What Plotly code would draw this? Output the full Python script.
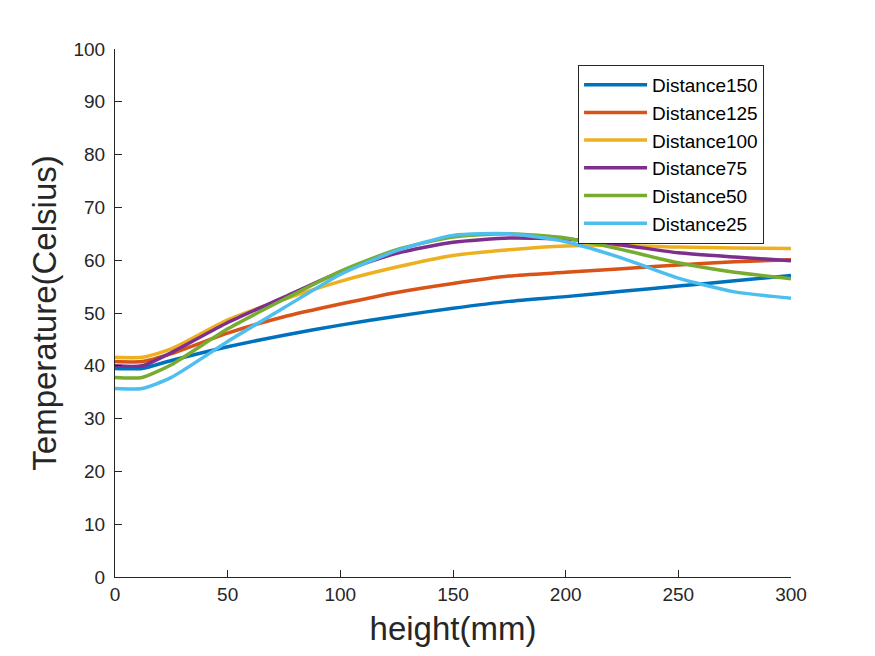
import plotly.graph_objects as go

height_mm = [0, 12, 25, 50, 75, 100, 125, 150, 175, 200, 225, 250, 275, 300]

d150 = [39.5, 39.5, 41.0, 43.6, 45.8, 47.7, 49.4, 50.9, 52.2, 53.1, 54.1, 55.1, 56.1, 57.1]
d125 = [40.8, 40.8, 42.3, 46.2, 49.3, 51.7, 53.9, 55.6, 57.0, 57.7, 58.4, 59.1, 59.7, 60.1]
d100 = [41.6, 41.6, 43.2, 48.7, 52.6, 56.0, 58.7, 60.9, 62.0, 62.7, 62.8, 62.5, 62.3, 62.2]
d75 = [40.0, 40.0, 42.5, 48.2, 53.0, 57.8, 61.3, 63.4, 64.2, 64.0, 62.9, 61.4, 60.6, 59.9]
d50 = [37.8, 37.8, 40.2, 47.0, 52.6, 57.9, 62.0, 64.4, 65.0, 64.2, 62.0, 59.5, 57.7, 56.5]
d25 = [35.7, 35.7, 37.8, 44.6, 51.0, 57.3, 61.8, 64.7, 65.0, 63.5, 60.4, 56.6, 54.0, 52.8]

series = [
    ("Distance150", d150, "#0072BD"),
    ("Distance125", d125, "#D95319"),
    ("Distance100", d100, "#EDB120"),
    ("Distance75", d75, "#7E2F8E"),
    ("Distance50", d50, "#77AC30"),
    ("Distance25", d25, "#4DBEEE"),
]

fig = go.Figure()
for name, vals, col in series:
    fig.add_trace(go.Scatter(
        x=height_mm, y=vals, name=name, mode="lines",
        line=dict(color=col, width=3.5, shape="spline", smoothing=0.6),
    ))

font_family = "Liberation Sans, Arial, sans-serif"
axis_common = dict(
    showline=True, linecolor="#262626", linewidth=1,
    ticks="inside", ticklen=7, tickcolor="#262626",
    showgrid=False, zeroline=False, mirror=False,
    tickfont=dict(family=font_family, size=19, color="#262626"),
)

fig.update_layout(
    width=867, height=648,
    margin=dict(l=107, r=84, t=41, b=79),
    paper_bgcolor="white", plot_bgcolor="white",
    font=dict(family=font_family, color="#262626"),
    xaxis=dict(range=[0, 300], tickvals=[0, 50, 100, 150, 200, 250, 300],
               title=dict(text="height(mm)", font=dict(size=33, color="#262626"), standoff=13),
               **axis_common),
    yaxis=dict(range=[0, 100], tickvals=list(range(0, 101, 10)),
               title=dict(text="Temperature(Celsius)", font=dict(size=33, color="#262626"), standoff=6),
               ticklabelstandoff=5,
               **axis_common),
    legend=dict(x=0.685, y=0.97, xanchor="left", yanchor="top",
                bgcolor="white", bordercolor="#262626", borderwidth=1,
                font=dict(family=font_family, size=19, color="black"),
                itemwidth=63, tracegroupgap=0),
    showlegend=True,
)

fig.write_html("out.html")
